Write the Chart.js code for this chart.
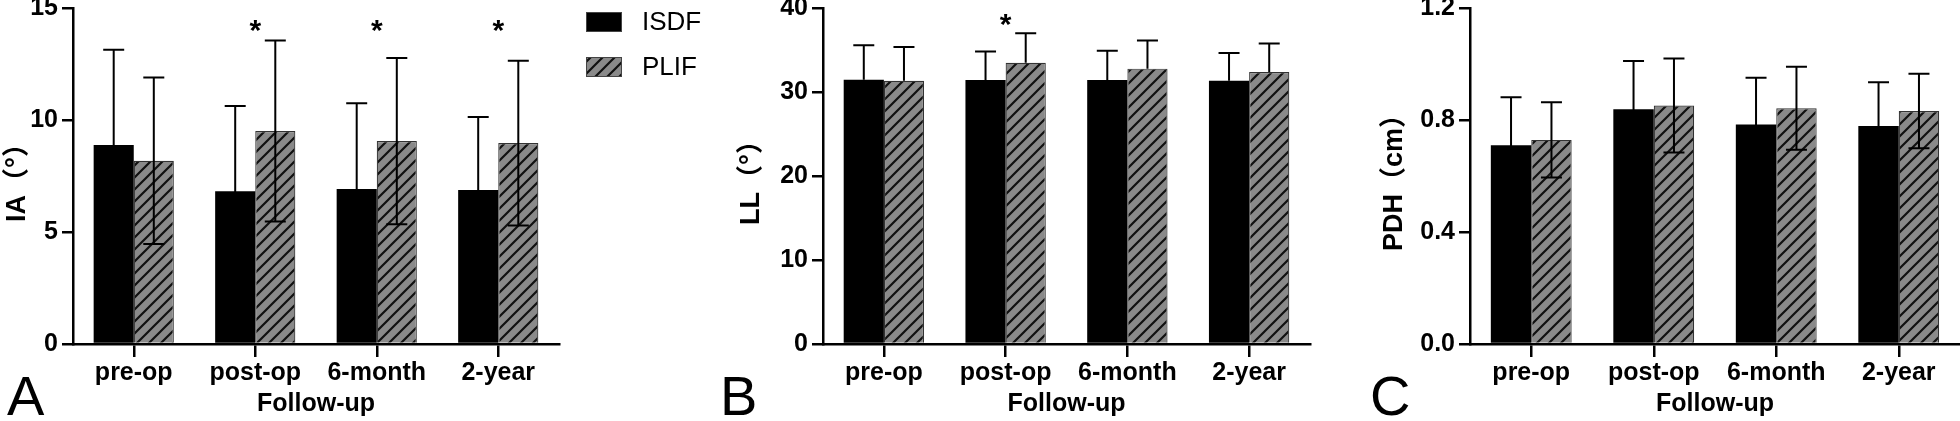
<!DOCTYPE html>
<html>
<head>
<meta charset="utf-8">
<script src="https://cdn.jsdelivr.net/npm/chart.js@4.4.1/dist/chart.umd.min.js"></script>
<style>
  html, body { margin: 0; padding: 0; background: #fff; }
  body { width: 1960px; height: 421px; position: relative; overflow: hidden; }
  canvas { position: absolute; top: 0; }
  .panel { position: absolute; top: 368px; font: 56px "Liberation Sans", Arial, sans-serif; line-height: 56px; color: #000; }
</style>
</head>
<body>
<canvas id="chartA" width="720" height="421" style="left:0px"></canvas>
<canvas id="chartB" width="620" height="421" style="left:720px"></canvas>
<canvas id="chartC" width="620" height="421" style="left:1340px"></canvas>
<div class="panel" style="left:7px">A</div>
<div class="panel" style="left:720px">B</div>
<div class="panel" style="left:1370px">C</div>
<script>
const categories = ['pre-op', 'post-op', '6-month', '2-year'];
const seriesNames = ['ISDF', 'PLIF'];

// A - IA (degrees)
const iaIsdf = [8.88, 6.82, 6.92, 6.88];
const iaIsdfSd = [4.26, 3.81, 3.83, 3.25];
const iaPlif = [8.18, 9.51, 9.06, 8.97];
const iaPlifSd = [3.72, 4.04, 3.71, 3.68];
const iaStars = [false, true, true, true];
const iaTicks = [0, 5, 10, 15];

// B - LL (degrees)
const llIsdf = [31.47, 31.42, 31.42, 31.34];
const llIsdfSd = [4.1, 3.41, 3.49, 3.29];
const llPlif = [31.34, 33.48, 32.78, 32.37];
const llPlifSd = [4.02, 3.52, 3.36, 3.4];
const llStars = [false, true, false, false];
const llTicks = [0, 10, 20, 30, 40];

// C - PDH (cm)
const pdhIsdf = [0.710, 0.838, 0.784, 0.779];
const pdhIsdfSd = [0.171, 0.173, 0.167, 0.156];
const pdhPlif = [0.729, 0.852, 0.842, 0.832];
const pdhPlifSd = [0.134, 0.168, 0.148, 0.133];
const pdhStars = [false, false, false, false];
const pdhTicks = [0, 0.4, 0.8, 1.2];

const FONT = '"Liberation Sans", Arial, sans-serif';
Chart.defaults.font.family = FONT;
Chart.defaults.color = '#000';

// grey fill with black "/" stripes
function makeHatch() {
    const c = document.createElement('canvas');
    c.width = 12; c.height = 12;
    const g = c.getContext('2d');
    g.fillStyle = '#8a8a8a';
    g.fillRect(0, 0, 12, 12);
    g.strokeStyle = '#111';
    g.lineWidth = 2.2;
    g.beginPath();
    g.moveTo(-3, 15); g.lineTo(15, -3);
    g.moveTo(-3, 3); g.lineTo(3, -3);
    g.moveTo(9, 15); g.lineTo(15, 9);
    g.stroke();
    return g.createPattern(c, 'repeat');
}
const hatch = makeHatch();

const errorBars = {
    id: 'errorBars',
    afterDatasetsDraw(chart, args, opts) {
        const ctx = chart.ctx;
        const y = chart.scales.y;
        ctx.save();
        ctx.strokeStyle = '#000';
        ctx.lineWidth = 2;
        chart.data.datasets.forEach((ds, i) => {
            chart.getDatasetMeta(i).data.forEach((bar, j) => {
                const v = ds.data[j], sd = ds.sd[j];
                const top = y.getPixelForValue(v + sd);
                const bot = opts.upOnly ? y.getPixelForValue(v) : y.getPixelForValue(v - sd);
                ctx.beginPath();
                ctx.moveTo(bar.x, bot); ctx.lineTo(bar.x, top);
                ctx.moveTo(bar.x - 10.5, top); ctx.lineTo(bar.x + 10.5, top);
                if (!opts.upOnly) { ctx.moveTo(bar.x - 10.5, bot); ctx.lineTo(bar.x + 10.5, bot); }
                ctx.stroke();
            });
        });
        ctx.restore();
    }
};

const stars = {
    id: 'stars',
    afterDatasetsDraw(chart, args, opts) {
        const ctx = chart.ctx;
        ctx.save();
        ctx.font = 'bold 30px ' + FONT;
        ctx.textAlign = 'center';
        ctx.textBaseline = 'middle';
        ctx.fillStyle = '#000';
        opts.flags.forEach((f, i) => {
            if (!f) return;
            const x = chart.scales.x.getPixelForValue(i);
            ctx.fillText('*', x, chart.scales.y.getPixelForValue(opts.at) + 6);
        });
        ctx.restore();
    }
};

const boxLegend = {
    id: 'boxLegend',
    afterDraw(chart, args, opts) {
        if (!opts.show) return;
        const ctx = chart.ctx;
        ctx.save();
        chart.data.datasets.forEach((ds, i) => {
            const y = opts.y + i * opts.gap;
            ctx.fillStyle = ds.backgroundColor;
            ctx.fillRect(opts.x, y, 36, 20);
            ctx.strokeStyle = '#444';
            ctx.lineWidth = 1;
            ctx.strokeRect(opts.x + 0.5, y + 0.5, 35, 19);
            ctx.fillStyle = '#000';
            ctx.font = '26px ' + FONT;
            ctx.textBaseline = 'middle';
            ctx.fillText(ds.label, opts.x + 56, y + 11);
        });
        ctx.restore();
    }
};

function buildChart(id, o) {
    return new Chart(document.getElementById(id), {
        type: 'bar',
        data: {
            labels: categories,
            datasets: [
                { label: seriesNames[0], data: o.isdf, sd: o.isdfSd, backgroundColor: '#000', borderColor: '#000', borderWidth: 0, categoryPercentage: 0.66, barPercentage: 1 },
                { label: seriesNames[1], data: o.plif, sd: o.plifSd, backgroundColor: hatch, borderColor: '#333', borderWidth: 1.2, categoryPercentage: 0.66, barPercentage: 1 }
            ]
        },
        options: {
            responsive: false,
            animation: false,
            events: [],
            layout: { padding: { top: 8, right: o.padRight, left: 0, bottom: 0 } },
            plugins: {
                legend: { display: false },
                tooltip: { enabled: false },
                errorBars: { upOnly: o.upOnly },
                stars: { flags: o.stars, at: o.starAt },
                boxLegend: { show: !!o.legend, x: 586, y: 12, gap: 45 }
            },
            scales: {
                x: {
                    grid: { drawOnChartArea: false, offset: false, tickLength: 13, lineWidth: 2.5, color: '#000' },
                    border: { color: '#000', width: 2.5 },
                    ticks: { font: { size: 25, weight: 'bold' }, color: '#000', padding: 1 },
                    title: { display: true, text: 'Follow-up', font: { size: 25, weight: 'bold' }, color: '#000', padding: { top: 0, bottom: 2 } }
                },
                y: {
                    min: 0,
                    max: o.ticks[o.ticks.length - 1],
                    afterBuildTicks: s => { s.ticks = o.ticks.map(v => ({ value: v })); },
                    afterFit: s => { s.width = o.yWidth; s.paddingTop = 0; s.paddingBottom = 0; },
                    grid: { drawOnChartArea: false, tickLength: 11, lineWidth: 2.5, color: '#000' },
                    border: { color: '#000', width: 2.5 },
                    ticks: { font: { size: 25, weight: 'bold' }, color: '#000', padding: 4, callback: v => v.toFixed(o.decimals) },
                    title: { display: true, text: o.title, font: { size: 27, weight: 'bold', family: '"Liberation Sans", "Noto Sans CJK SC", sans-serif' }, color: '#000', padding: { top: o.titlePad, bottom: 0 } }
                }
            }
        },
        plugins: [errorBars, stars, boxLegend]
    });
}

buildChart('chartA', { isdf: iaIsdf, isdfSd: iaIsdfSd, plif: iaPlif, plifSd: iaPlifSd, stars: iaStars, starAt: 14.2, ticks: iaTicks, decimals: 0, title: 'IA（°）', yWidth: 73, titlePad: 1, padRight: 161, legend: true, upOnly: false });
buildChart('chartB', { isdf: llIsdf, isdfSd: llIsdfSd, plif: llPlif, plifSd: llPlifSd, stars: llStars, starAt: 38.6, ticks: llTicks, decimals: 0, title: 'LL（°）', yWidth: 103, titlePad: 15, padRight: 30, upOnly: true });
buildChart('chartC', { isdf: pdhIsdf, isdfSd: pdhIsdfSd, plif: pdhPlif, plifSd: pdhPlifSd, stars: pdhStars, starAt: 1.15, ticks: pdhTicks, decimals: 1, title: 'PDH（cm）', yWidth: 130, titlePad: 38, padRight: 0, upOnly: false });
</script>
</body>
</html>
